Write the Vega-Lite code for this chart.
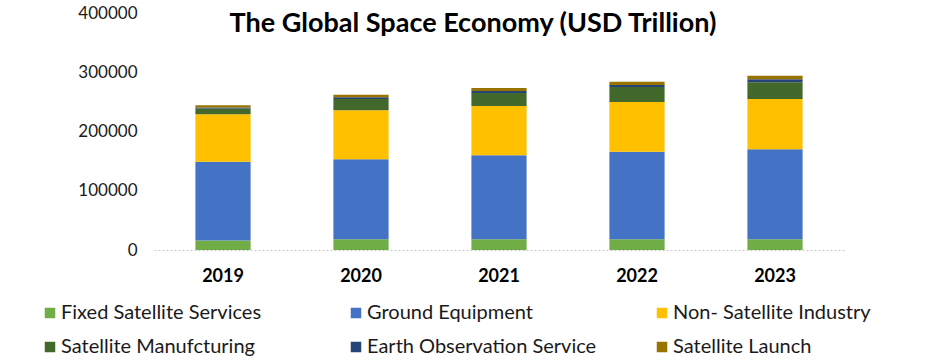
{
  "$schema": "https://vega.github.io/schema/vega-lite/v6.json",
  "width": 690,
  "height": 237,
  "autosize": "none",
  "padding": {"left": 154, "top": 13, "right": 97, "bottom": 113},
  "background": "white",
  "config": {"view": {"stroke": null}, "font": "Lato"},
  "title": {
    "text": "The Global Space Economy (USD Trillion)",
    "font": "Lato",
    "fontSize": 27,
    "fontWeight": "bold",
    "color": "#000000",
    "anchor": "middle",
    "dx": -26,
    "dy": 38
  },
  "datasets": {
    "segments": [
      {"segment": "Fixed Satellite Services", "rank": 1},
      {"segment": "Ground Equipment", "rank": 2},
      {"segment": "Non- Satellite Industry", "rank": 3},
      {"segment": "Satellite Manufcturing", "rank": 4},
      {"segment": "Earth Observation Service", "rank": 5},
      {"segment": "Satellite Launch", "rank": 6}
    ],
    "economy": [
      {"year": "2019", "segment": "Fixed Satellite Services", "value": 16000},
      {"year": "2019", "segment": "Ground Equipment", "value": 133000},
      {"year": "2019", "segment": "Non- Satellite Industry", "value": 80000},
      {"year": "2019", "segment": "Satellite Manufcturing", "value": 10000},
      {"year": "2019", "segment": "Earth Observation Service", "value": 1500},
      {"year": "2019", "segment": "Satellite Launch", "value": 4000},
      {"year": "2020", "segment": "Fixed Satellite Services", "value": 18000},
      {"year": "2020", "segment": "Ground Equipment", "value": 135000},
      {"year": "2020", "segment": "Non- Satellite Industry", "value": 83000},
      {"year": "2020", "segment": "Satellite Manufcturing", "value": 19000},
      {"year": "2020", "segment": "Earth Observation Service", "value": 3000},
      {"year": "2020", "segment": "Satellite Launch", "value": 4000},
      {"year": "2021", "segment": "Fixed Satellite Services", "value": 18000},
      {"year": "2021", "segment": "Ground Equipment", "value": 142000},
      {"year": "2021", "segment": "Non- Satellite Industry", "value": 83000},
      {"year": "2021", "segment": "Satellite Manufcturing", "value": 22000},
      {"year": "2021", "segment": "Earth Observation Service", "value": 3500},
      {"year": "2021", "segment": "Satellite Launch", "value": 5000},
      {"year": "2022", "segment": "Fixed Satellite Services", "value": 18000},
      {"year": "2022", "segment": "Ground Equipment", "value": 148000},
      {"year": "2022", "segment": "Non- Satellite Industry", "value": 84000},
      {"year": "2022", "segment": "Satellite Manufcturing", "value": 25000},
      {"year": "2022", "segment": "Earth Observation Service", "value": 3500},
      {"year": "2022", "segment": "Satellite Launch", "value": 5500},
      {"year": "2023", "segment": "Fixed Satellite Services", "value": 18000},
      {"year": "2023", "segment": "Ground Equipment", "value": 152000},
      {"year": "2023", "segment": "Non- Satellite Industry", "value": 85000},
      {"year": "2023", "segment": "Satellite Manufcturing", "value": 28000},
      {"year": "2023", "segment": "Earth Observation Service", "value": 5000},
      {"year": "2023", "segment": "Satellite Launch", "value": 6000}
    ]
  },
  "data": {"name": "economy"},
  "transform": [
    {"lookup": "segment", "from": {"data": {"name": "segments"}, "key": "segment", "fields": ["rank"]}}
  ],
  "mark": {"type": "bar"},
  "encoding": {
    "x": {
      "field": "year",
      "type": "nominal",
      "scale": {"paddingInner": 0.6, "paddingOuter": 0.3},
      "axis": {
        "title": null,
        "labelAngle": 0,
        "ticks": false,
        "labelPadding": 17,
        "labelFont": "Lato",
        "labelFontSize": 18,
        "labelFontWeight": "bold",
        "labelColor": "#000000",
        "domainColor": "#c8c8c8",
        "domainDash": [2, 2],
        "domainWidth": 1
      }
    },
    "y": {
      "field": "value",
      "type": "quantitative",
      "stack": "zero",
      "scale": {"domain": [0, 400000]},
      "axis": {
        "title": null,
        "values": [0, 100000, 200000, 300000, 400000],
        "format": "d",
        "grid": false,
        "domain": false,
        "ticks": false,
        "labelPadding": 17,
        "labelFont": "Lato",
        "labelFontSize": 17,
        "labelColor": "#1a1a1a"
      }
    },
    "order": {"field": "rank", "type": "quantitative", "sort": "ascending"},
    "color": {
      "field": "segment",
      "type": "nominal",
      "scale": {
        "domain": ["Fixed Satellite Services", "Ground Equipment", "Non- Satellite Industry", "Satellite Manufcturing", "Earth Observation Service", "Satellite Launch"],
        "range": ["#70AD47", "#4472C4", "#FFC000", "#43682B", "#264478", "#997300"]
      },
      "legend": {
        "title": null,
        "orient": "none",
        "legendX": -114,
        "legendY": 290,
        "direction": "horizontal",
        "columns": 3,
        "gridAlign": "all",
        "columnPadding": 55,
        "rowPadding": 14,
        "symbolType": "square",
        "symbolSize": 110,
        "symbolStrokeWidth": 0,
        "labelFont": "Lato",
        "labelFontSize": 20,
        "labelColor": "#1a1a1a",
        "labelOffset": 1,
        "labelLimit": 400
      }
    }
  }
}
